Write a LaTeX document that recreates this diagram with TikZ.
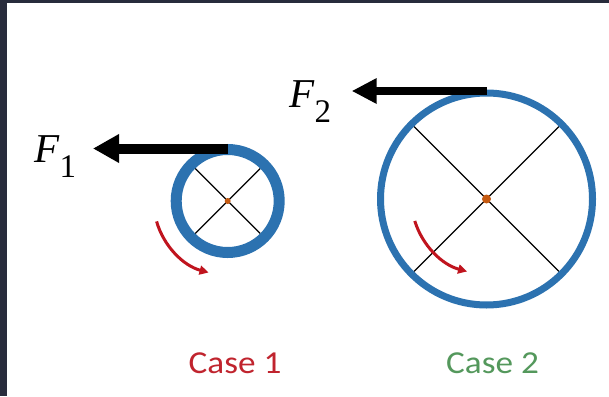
\documentclass[tikz,border=0pt]{standalone}
\usepackage{fontspec}
\setmainfont{Liberation Serif}
\newfontfamily\casefont[FakeStretch=1.1]{Carlito}
\usetikzlibrary{arrows.meta}
\definecolor{ringblue}{RGB}{44,114,176}
\definecolor{hubdot}{RGB}{197,90,17}
\definecolor{spinred}{RGB}{192,20,30}
\definecolor{caseone}{RGB}{192,36,46}
\definecolor{casetwo}{RGB}{84,152,92}
\definecolor{framedark}{RGB}{40,44,60}
\newcommand{\forcelabel}[1]{\fontsize{41}{41}\selectfont\textit{F}\raisebox{-15pt}{\fontsize{33}{33}\selectfont #1}}
\tikzset{
  spoke/.style={line width=1.2},
  spin/.style={spinred,line width=3,-{Triangle[length=9,width=9]}},
  casetext/.style={anchor=base,inner sep=0,font=\casefont\fontsize{32}{32}\selectfont}
}
\begin{document}
\begin{tikzpicture}[x=1pt,y=-1pt]
  \fill[framedark] (0,0) rectangle (609,396);
  \fill[white] (7,3) rectangle (609,396);
  \useasboundingbox (0,0) rectangle (609,396);
  % small wheel
  \coordinate (hub1) at (227.7,201);
  \foreach \a in {45,135,225,315}
    \draw[spoke] (hub1) -- ++(\a:46);
  \draw[ringblue,line width=11] (hub1) circle[radius=51.5];
  \fill[hubdot] (hub1) circle[radius=3];
  \draw[line width=10,-{Triangle[length=26,width=27]}] (hub1) ++(0,-52.5) -- ++(-134.7,0);
  \draw[spin] (hub1) ++(164:74) arc[start angle=164,end angle=105,radius=74];
  \node[anchor=base west,inner sep=0] (f1) at (34,162.7) {\forcelabel{1}};
  % big wheel
  \coordinate (hub2) at (486.5,199);
  \foreach \a in {45,135,225,315}
    \draw[spoke] (hub2) -- ++(\a:102.5);
  \draw[ringblue,line width=7] (hub2) circle[radius=106];
  \fill[hubdot] (hub2) circle[radius=4.5];
  \draw[line width=8.5,-{Triangle[length=25,width=24]}] (hub2) ++(0,-108) -- ++(-134.8,0);
  \draw[spin] (hub2) ++(163:75) arc[start angle=163,end angle=105,radius=75];
  \node[anchor=base west,inner sep=0] (f2) at (289,107.3) {\forcelabel{2}};
  % captions
  \node[casetext,caseone] (case1) at (235,373.3) {Case 1};
  \node[casetext,casetwo] (case2) at (492.5,373.3) {Case 2};
\end{tikzpicture}
\end{document}
